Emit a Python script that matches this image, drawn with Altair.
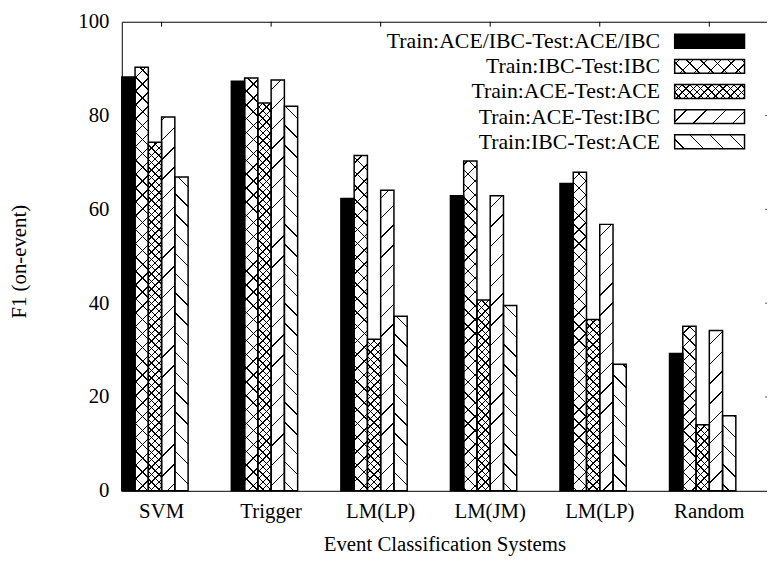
import json
import altair as alt

# ---------------- data ----------------
categories = ["SVM", "Trigger", "LM(LP)", "LM(JM)", "LM(LP)", "Random"]
series = [
    "Train:ACE/IBC-Test:ACE/IBC",
    "Train:IBC-Test:IBC",
    "Train:ACE-Test:ACE",
    "Train:ACE-Test:IBC",
    "Train:IBC-Test:ACE",
]
f1_aceibc_aceibc = [88.2, 87.3, 62.3, 62.9, 65.5, 29.3]
f1_ibc_ibc = [90.3, 88.0, 71.5, 70.3, 67.9, 35.1]
f1_ace_ace = [74.3, 82.7, 32.3, 40.7, 36.5, 14.1]
f1_ace_ibc = [79.7, 87.6, 64.1, 62.9, 56.8, 34.2]
f1_ibc_ace = [66.9, 82.0, 37.2, 39.5, 27.0, 16.0]
y_ticks = [0, 20, 40, 60, 80, 100]

values = [f1_aceibc_aceibc, f1_ibc_ibc, f1_ace_ace, f1_ace_ibc, f1_ibc_ace]

# ---------------- styles / layout ----------------
FONT = "Liberation Serif"
FS = 21
FS_LEG = 22
PLOT_W, PLOT_H = 652, 474
BAR_W = 13.4
SLOTS = 6                      # 5 bars + one empty slot per cluster
STEP = 110.7
GROUP_W = BAR_W * SLOTS
PI = 1 - GROUP_W / STEP
PO = (PLOT_W / STEP - (len(categories) - PI)) / 2

# pattern per series: (kind, spacing)
PATTERNS = [("solid", 0), ("x", 14.0), ("x", 7.5), ("/", 20.0), ("\\", 20.0)]

CLEAR = "rgba(255,255,255,0)"


def hatch(kind, W, H, d, bg, X0, Y0, lw=1.0):
    """Linear gradient (objectBoundingBox) drawing 45 degree hatch lines."""
    L = W + H
    k = L / (W * W + H * H)
    if kind == "/":
        g = {"x1": 0, "y1": 0, "x2": round(k * W, 6), "y2": round(k * H, 6)}
        phase = (-(X0 + Y0)) % d
    else:
        g = {"x1": 1, "y1": 0, "x2": round(1 - k * W, 6), "y2": round(k * H, 6)}
        phase = (W - Y0 + X0) % d
    h = lw * 0.7071
    stops = [{"offset": 0, "color": bg}]
    c = phase - d
    while c - h <= L:
        a = max(0.0, (c - h) / L)
        b = min(1.0, (c + h) / L)
        if b > 0 and a < 1:
            stops += [
                {"offset": round(a, 5), "color": bg},
                {"offset": round(a, 5), "color": "black"},
                {"offset": round(b, 5), "color": "black"},
                {"offset": round(b, 5), "color": bg},
            ]
        c += d
    stops.append({"offset": 1, "color": bg})
    return {"gradient": "linear", **g, "stops": stops}


def fills(j, W, H, X0, Y0):
    kind, d = PATTERNS[j]
    if kind == "solid":
        return "black", "transparent"
    if kind == "x":
        return (hatch("/", W, H, d, "white", X0, Y0),
                hatch("\\", W, H, d, CLEAR, X0, Y0))
    return hatch(kind, W, H, d, "white", X0, Y0), "transparent"


bar_records = []
for i, cat in enumerate(categories):
    for j, s in enumerate(series):
        v = values[j][i]
        H = v * PLOT_H / 100.0
        X0 = i * STEP + j * BAR_W
        f1, f2 = fills(j, BAR_W, H, X0, PLOT_H - H)
        bar_records.append({"gi": i, "si": j, "v": v, "f1": f1, "f2": f2})

LEG_X0, LEG_W, LEG_H = 558.7, 70.6, 14.0
LEG_TOP, LEG_STEP = 12.7, 25.4
leg_records = []
for j, s in enumerate(series):
    f1, f2 = fills(j, LEG_W, LEG_H, LEG_X0, LEG_TOP + j * LEG_STEP)
    leg_records.append({"li": j, "label": s, "f1": f1, "f2": f2})

label_expr = json.dumps(categories) + "[datum.value]"

x_scale = alt.Scale(type="band", paddingInner=PI, paddingOuter=PO, align=0, round=False)
x_axis = alt.Axis(
    title="Event Classification Systems", labelExpr=label_expr, labelAngle=0,
    ticks=False, domainColor="black", domainWidth=1, labelFont=FONT, labelFontSize=FS,
    labelColor="black", labelPadding=10, titleFont=FONT, titleFontSize=FS,
    titleFontWeight="normal", titleColor="black", titleY=54, titleBaseline="middle",
)
y_scale = alt.Scale(domain=[0, 100], nice=False, zero=True)
y_axis = alt.Axis(
    title="F1 (on-event)", values=y_ticks, ticks=False, grid=False, domainColor="black",
    domainWidth=1, labelFont=FONT, labelFontSize=FS, labelColor="black", labelPadding=13,
    titleFont=FONT, titleFontSize=FS, titleFontWeight="normal", titleColor="black",
    titleX=-103, titleY=242, titleAngle=-90, titleAlign="center", titleBaseline="middle",
)
xo = alt.XOffset("si:O", scale=alt.Scale(domain=list(range(SLOTS)), paddingInner=0, paddingOuter=0))

bars_base = alt.Chart(alt.Data(values=bar_records))
bars_a = bars_base.mark_bar(strokeWidth=0).encode(
    x=alt.X("gi:O", scale=x_scale, axis=x_axis),
    xOffset=xo,
    y=alt.Y("v:Q", scale=y_scale, axis=y_axis),
    fill=alt.Fill("f1:N", scale=None, legend=None),
)
bars_b = bars_base.mark_bar(stroke="black", strokeWidth=1.5).encode(
    x=alt.X("gi:O", scale=x_scale, axis=x_axis),
    xOffset=xo,
    y=alt.Y("v:Q", scale=y_scale, axis=y_axis),
    fill=alt.Fill("f2:N", scale=None, legend=None),
)
bars = alt.layer(bars_a, bars_b)

# mirrored ticks on top border
top_ticks = alt.Chart(alt.Data(values=[{"gi": i} for i in range(len(categories))])).mark_rule(
    color="black", strokeWidth=1
).encode(
    x=alt.X("gi:O", scale=x_scale,
            axis=alt.Axis(orient="top", labels=False, ticks=False, domain=True,
                          domainColor="black", domainWidth=1, title=None)),
    y=alt.value(0),
    y2=alt.value(5),
)

# mirrored ticks on the right edge
right_ticks = alt.Chart(alt.Data(values=[{"t": t} for t in y_ticks[1:-1]])).mark_rule(
    color="#555555", strokeWidth=1
).encode(
    x=alt.value(PLOT_W - 2),
    x2=alt.value(PLOT_W),
    y=alt.Y("t:Q", scale=y_scale, axis=None),
)

leg_scale = alt.Scale(type="band", range=[LEG_TOP, LEG_TOP + 4 * LEG_STEP + LEG_H],
                      paddingInner=1 - LEG_H / LEG_STEP, paddingOuter=0, round=False)
leg_base = alt.Chart(alt.Data(values=leg_records))
leg_a = leg_base.mark_rect(strokeWidth=0).encode(
    y=alt.Y("li:O", scale=leg_scale, axis=None),
    x=alt.value(LEG_X0), x2=alt.value(LEG_X0 + LEG_W),
    fill=alt.Fill("f1:N", scale=None, legend=None),
)
leg_b = leg_base.mark_rect(stroke="black", strokeWidth=1.5).encode(
    y=alt.Y("li:O", scale=leg_scale, axis=None),
    x=alt.value(LEG_X0), x2=alt.value(LEG_X0 + LEG_W),
    fill=alt.Fill("f2:N", scale=None, legend=None),
)
leg_text = leg_base.mark_text(align="right", baseline="middle", font=FONT,
                              fontSize=FS_LEG, color="black").encode(
    y=alt.Y("li:O", scale=leg_scale, axis=None),
    x=alt.value(LEG_X0 - 14.7),
    text="label:N",
)
legend = alt.layer(leg_a, leg_b, leg_text)

chart = alt.layer(bars, top_ticks, right_ticks, legend).resolve_scale(
    y="independent"
).resolve_axis(
    x="independent", y="independent"
).properties(
    width=PLOT_W, height=PLOT_H,
    autosize=alt.AutoSizeParams(type="none"),
    padding={"left": 115, "top": 11, "right": 0, "bottom": 64},
).configure_view(stroke="transparent")

chart.save("out.html", embed_options={"renderer": "svg", "actions": False})
